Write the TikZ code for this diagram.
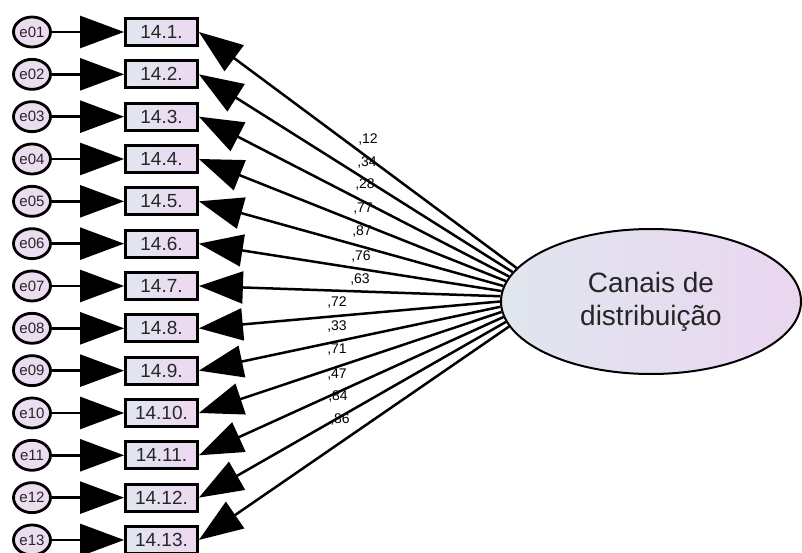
\documentclass[tikz,border=0pt]{standalone}
\usepackage{fontspec}
\setmainfont{Liberation Sans}
\usepackage{xcolor}
\usepackage{tikz}
\usetikzlibrary{arrows.meta,shapes.geometric}

\definecolor{errfill}{HTML}{ECDCF0}
\definecolor{boxleft}{HTML}{E2E6F0}
\definecolor{boxright}{HTML}{ECD8F0}
\definecolor{latleft}{HTML}{E0E6EE}
\definecolor{latright}{HTML}{EAD6F0}

\begin{document}
\begin{tikzpicture}[x=1pt,y=-1pt,
    errnode/.style={ellipse,draw,line width=2.8pt,fill=errfill,
        minimum width=37pt,minimum height=30pt,inner sep=0pt,
        text=black!85,font=\fontsize{15}{15}\selectfont},
    itembox/.style={rectangle,draw,line width=2.8pt,left color=boxleft,
        right color=boxright,minimum width=72pt,minimum height=27pt,
        inner sep=0pt,text=black!85,font=\fontsize{19}{19}\selectfont},
    latent/.style={ellipse,draw,line width=2pt,left color=latleft,
        right color=latright,minimum width=300pt,minimum height=145pt,
        inner sep=0pt,align=center,text=black!85,
        font=\fontsize{28}{33}\selectfont},
    coef/.style={inner sep=0pt,font=\fontsize{14}{14}\selectfont},
    bigtip/.style={line width=2.5pt,-{Triangle[length=44pt,width=32pt]}}]
\useasboundingbox (0,0) rectangle (802,553);

\node[latent] (canais) at (651,301.5) {Canais de\\distribuição};

\foreach \i/\lab/\lx/\ly in {1/{,12}/368/140, 2/{,34}/367/163, 3/{,28}/365/185,
    4/{,77}/363/209, 5/{,87}/362/232, 6/{,76}/361/257, 7/{,63}/360/280,
    8/{,72}/337/303, 9/{,33}/337/327, 10/{,71}/337/350, 11/{,47}/337/375,
    12/{,84}/338/397, 13/{,86}/340/420}{
    \pgfmathsetmacro\ry{32+(\i-1)*42.33}
    \pgfmathsetmacro\ang{166+2*(\i-1)}
    \node[errnode] (e\i) at (32,\ry) {e\ifnum\i<10 0\fi\i};
    \node[itembox] (v\i) at (161.5,\ry) {14.\i.};
    \draw[bigtip] (e\i) -- (v\i);
    \draw[bigtip] (canais.\ang) -- (v\i.east);
    \node[coef] (c\i) at (\lx,\ly) {\lab};
}
\end{tikzpicture}
\end{document}
